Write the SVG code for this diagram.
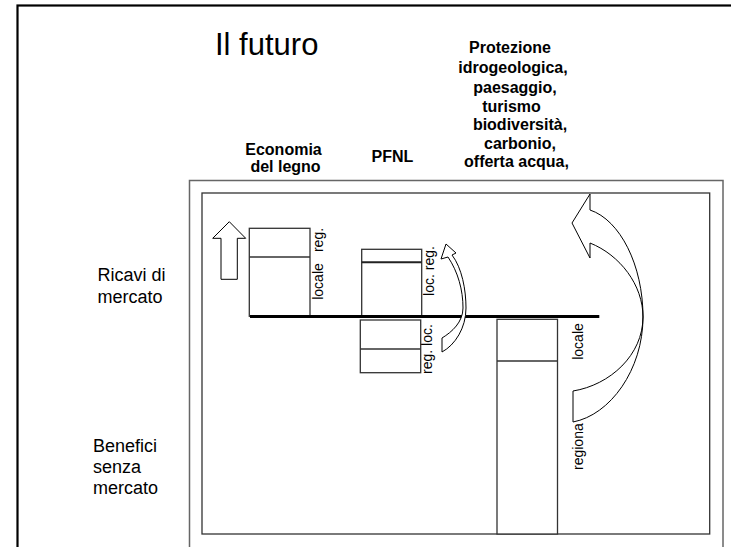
<svg xmlns="http://www.w3.org/2000/svg" width="731" height="547" viewBox="0 0 731 547">
<style>
.t{font-family:"Liberation Sans",Arial,sans-serif;fill:#000}
.b{font-weight:bold;font-size:16px;text-anchor:middle}
.side{font-size:18px}
.rot{font-size:14px}
.box{fill:#fff;stroke:#333;stroke-width:1.3}
.arr{fill:#fff;stroke:#000;stroke-width:1}
</style>
<rect x="0" y="0" width="731" height="547" fill="#fff"/>
<g id="frames">
<rect x="17.5" y="5.5" width="730" height="560" fill="none" stroke="#000" stroke-width="2.2"/>
<rect x="189.5" y="180.5" width="533.5" height="390" fill="none" stroke="#666" stroke-width="1.5"/>
<rect x="202" y="193" width="507.7" height="341" fill="none" stroke="#333" stroke-width="1.3"/>
</g>
<g id="title"><text class="t" x="215" y="55" font-size="31">Il futuro</text></g>
<g id="headers">
<text class="t b" x="283.5" y="155">Economia</text>
<text class="t b" x="285.5" y="171.5">del legno</text>
<text class="t b" x="392.5" y="162">PFNL</text>
<text class="t b" x="510" y="53">Protezione</text>
<text class="t b" x="513" y="73">idrogeologica,</text>
<text class="t b" x="515" y="93">paesaggio,</text>
<text class="t b" x="511.5" y="111.5">turismo</text>
<text class="t b" x="520" y="130">biodiversità,</text>
<text class="t b" x="520" y="148.5">carbonio,</text>
<text class="t b" x="516.5" y="167">offerta acqua,</text>
</g>
<g id="row-labels">
<text class="t side" x="97.5" y="280.5">Ricavi di</text>
<text class="t side" x="97.5" y="302.5">mercato</text>
<text class="t side" x="93" y="451.5">Benefici</text>
<text class="t side" x="93" y="472.5">senza</text>
<text class="t side" x="93" y="493.5">mercato</text>
</g>
<g id="node-economia">
<rect class="box" x="249.3" y="228.3" width="60.7" height="88"/>
<line x1="249.3" y1="257" x2="310" y2="257" stroke="#333" stroke-width="1.3"/>
<text class="t rot" text-anchor="middle" transform="translate(323,240) rotate(-90)">reg.</text>
<text class="t rot" text-anchor="middle" transform="translate(323,281.5) rotate(-90)">locale</text>
</g>
<g id="node-pfnl">
<rect class="box" x="361.7" y="249.3" width="60" height="67"/>
<line x1="361.7" y1="262.3" x2="421.7" y2="262.3" stroke="#222" stroke-width="2"/>
<rect class="box" x="360.3" y="320" width="60.4" height="52.7"/>
<line x1="360.3" y1="349" x2="420.7" y2="349" stroke="#333" stroke-width="1.3"/>
<text class="t rot" text-anchor="middle" transform="translate(434,271) rotate(-90)">loc. reg.</text>
<text class="t rot" text-anchor="middle" transform="translate(432,349) rotate(-90)">reg. loc.</text>
</g>
<g id="node-servizi">
<rect class="box" x="497" y="319.3" width="60.5" height="214.7"/>
<line x1="497" y1="361" x2="557.5" y2="361" stroke="#333" stroke-width="1.3"/>
<text class="t rot" text-anchor="middle" transform="translate(583,341.5) rotate(-90)">locale</text>
<text class="t rot" text-anchor="start" transform="translate(583,470) rotate(-90)">regiona</text>
</g>
<g id="connectors">
<line x1="250" y1="316.5" x2="599.3" y2="316.5" stroke="#000" stroke-width="3"/>
<polygon class="arr" points="229.3,221.7 245.7,238.3 237.3,238.3 237.3,279.3 221,279.3 221,238.3 212.7,238.3"/>
<path class="arr" d="M446,244 L456,253 L452,255 C462,268 466,290 466,308 C466,328 455,345 442,352 L442,338 C452,332 463,322 463,308 C463,290 458,272 448,257 L441,259 Z"/>
<path class="arr" d="M590,194 L572,223 L590,258 L590,243 C620,255 643,285 643,317 C643,355 610,385 573,391 L573,422 C610,415 643,370 643,317 C643,265 620,220 590,210 Z"/>
</g>
</svg>
